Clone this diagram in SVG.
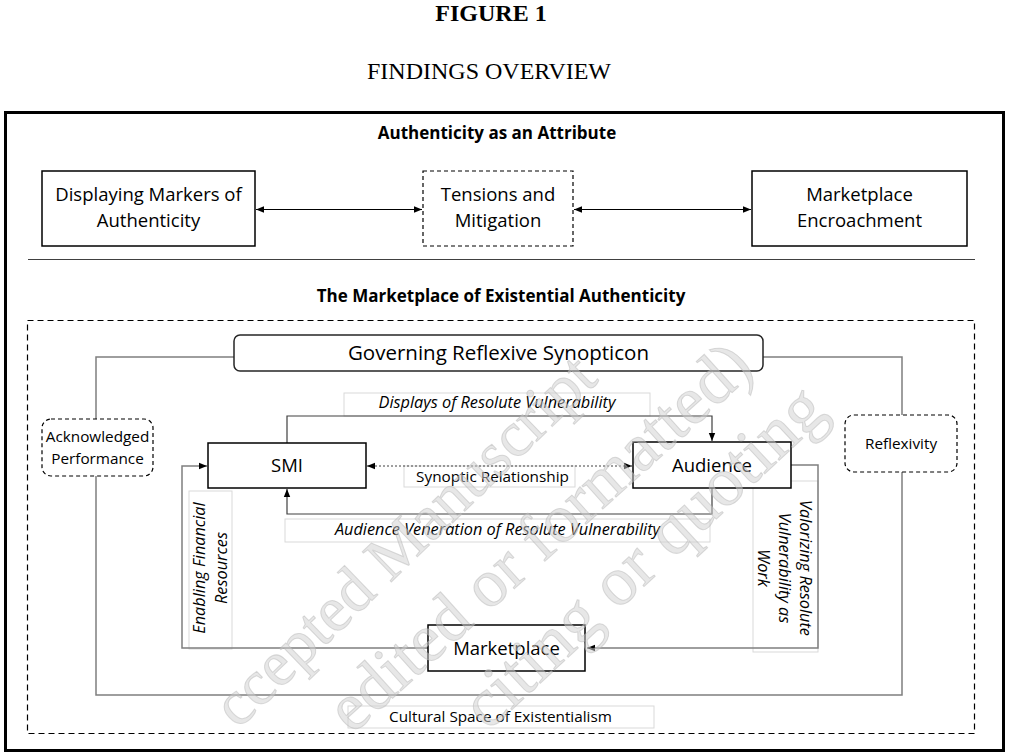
<svg xmlns="http://www.w3.org/2000/svg" width="1010" height="756" viewBox="0 0 1010 756">
<style>
.t{font-family:"Open Sans","Liberation Sans",sans-serif;fill:#000;text-anchor:middle}
.h{font-family:"Liberation Serif","Times New Roman",serif;fill:#000;text-anchor:middle;font-size:24px}
.b{font-weight:bold;font-size:17px}
.n18{font-size:18.5px}
.lbl{font-size:15.3px}
.it{font-style:italic;font-size:16.3px}
.box{fill:#fff;stroke:#000;stroke-width:1.5}
.dash{fill:#fff;stroke:#000;stroke-width:1.2;stroke-dasharray:4 3}
.lb{fill:#fff;stroke:#d9d9d9;stroke-width:1}
.dk{fill:none;stroke:#404040;stroke-width:1.2}
.gy{fill:none;stroke:#7f7f7f;stroke-width:1.5}
.bk{fill:none;stroke:#000;stroke-width:1}
.wm{font-family:"Liberation Serif","Times New Roman",serif;fill:#d0d0d0;fill-opacity:0.5;stroke:#b4b4b4;stroke-opacity:0.45;stroke-width:1}
</style>
<defs>
<marker id="ah" viewBox="0 0 8 8" refX="8" refY="4" markerWidth="8" markerHeight="8" markerUnits="userSpaceOnUse" orient="auto-start-reverse">
<path d="M0,0.8 L8,4 L0,7.2 z" fill="#000"/>
</marker>
</defs>

<g id="headings">
<text class="h" x="491" y="21" font-weight="bold">FIGURE 1</text>
<text class="h" x="489" y="79">FINDINGS OVERVIEW</text>
</g>

<g id="frame">
<rect x="5.5" y="112.5" width="998" height="638" fill="#fff" stroke="#000" stroke-width="3"/>
<text class="t b" x="497" y="139">Authenticity as an Attribute</text>
<line x1="28" y1="259.5" x2="975" y2="259.5" stroke="#404040" stroke-width="1.2"/>
<text class="t b" x="501" y="302">The Marketplace of Existential Authenticity</text>
<rect x="27.5" y="320.5" width="947" height="413" fill="none" stroke="#000" stroke-width="1.2" stroke-dasharray="6 4"/>
</g>

<g id="labels">
<rect class="lb" x="344" y="393" width="306" height="23"/>
<text class="t it" x="497" y="408">Displays of Resolute Vulnerability</text>
<rect class="lb" x="404" y="466" width="171" height="21"/>
<text class="t lbl" x="492.5" y="482">Synoptic Relationship</text>
<rect class="lb" x="285" y="519" width="425" height="23"/>
<text class="t it" x="497.5" y="535">Audience Veneration of Resolute Vulnerability</text>
<rect class="lb" x="189" y="491" width="43" height="158"/>
<text class="t it" transform="translate(211,568) rotate(-90)"><tspan x="0" y="-6">Enabling Financial</tspan><tspan x="0" y="16">Resources</tspan></text>
<rect class="lb" x="753" y="481" width="65" height="171"/>
<text class="t it" transform="translate(785,568) rotate(90)"><tspan x="0" y="-15">Valorizing Resolute</tspan><tspan x="0" y="6">Vulnerability as</tspan><tspan x="0" y="27">Work</tspan></text>
<rect class="lb" x="348" y="706" width="306" height="22"/>
<text class="t lbl" x="500.5" y="722">Cultural Space of Existentialism</text>
</g>

<g id="connectors">
<path class="bk" d="M256,209.5 H422" marker-start="url(#ah)" marker-end="url(#ah)"/>
<path class="bk" d="M574,209.5 H751" marker-start="url(#ah)" marker-end="url(#ah)"/>
<path class="gy" d="M234,357 H96 V419"/>
<path class="gy" d="M96,476 V695 H902 V472"/>
<path class="gy" d="M902,415 V357 H763"/>
<path class="dk" d="M287,443 V416 H712 V441" marker-end="url(#ah)"/>
<path class="dk" d="M712,488 V514 H287 V489" marker-end="url(#ah)"/>
<path d="M367,466 H632" fill="none" stroke="#404040" stroke-width="1" stroke-dasharray="2 2" marker-start="url(#ah)" marker-end="url(#ah)"/>
<path class="gy" d="M428,648 H182 V466 H207" marker-end="url(#ah)"/>
<path class="gy" d="M791,465 H818 V648 H587" marker-end="url(#ah)"/>
</g>

<g id="n-displaying">
<rect class="box" x="42" y="171" width="213" height="75"/>
<text class="t n18" x="148.5" y="201">Displaying Markers of</text>
<text class="t n18" x="148.5" y="227">Authenticity</text>
</g>
<g id="n-tensions">
<rect class="dash" x="423" y="171" width="150" height="75"/>
<text class="t n18" x="498" y="201">Tensions and</text>
<text class="t n18" x="498" y="227">Mitigation</text>
</g>
<g id="n-encroachment">
<rect class="box" x="752" y="171" width="215" height="75"/>
<text class="t n18" x="859.5" y="201">Marketplace</text>
<text class="t n18" x="859.5" y="227">Encroachment</text>
</g>
<g id="n-governing">
<rect x="234" y="335" width="529" height="36" rx="6" fill="#fff" stroke="#262626" stroke-width="1.5"/>
<text class="t" x="498.5" y="360" font-size="20.5">Governing Reflexive Synopticon</text>
</g>
<g id="n-acknowledged">
<rect class="dash" x="42" y="419" width="111" height="57" rx="9" stroke-dasharray="3 2"/>
<text class="t lbl" x="97.5" y="442">Acknowledged</text>
<text class="t lbl" x="97.5" y="464">Performance</text>
</g>
<g id="n-reflexivity">
<rect class="dash" x="845" y="415" width="112" height="57" rx="9" stroke-dasharray="3 2"/>
<text class="t lbl" x="901" y="449">Reflexivity</text>
</g>
<g id="n-smi">
<rect class="box" x="208" y="443" width="158" height="45"/>
<text class="t n18" x="287" y="472">SMI</text>
</g>
<g id="n-audience">
<rect class="box" x="633" y="442" width="158" height="46"/>
<text class="t n18" x="712" y="472">Audience</text>
</g>
<g id="n-marketplace">
<rect class="box" x="428" y="625" width="157" height="46"/>
<text class="t n18" x="506.5" y="655">Marketplace</text>
</g>

<g id="watermark">
<text class="wm" font-size="64" transform="translate(238,730) rotate(-44)">ccepted Manuscript</text>
<text class="wm" font-size="68" transform="translate(352,735) rotate(-42)">edited or formatted)</text>
<text class="wm" font-size="70" transform="translate(488,732) rotate(-43)">citing or quoting</text>
</g>
</svg>
